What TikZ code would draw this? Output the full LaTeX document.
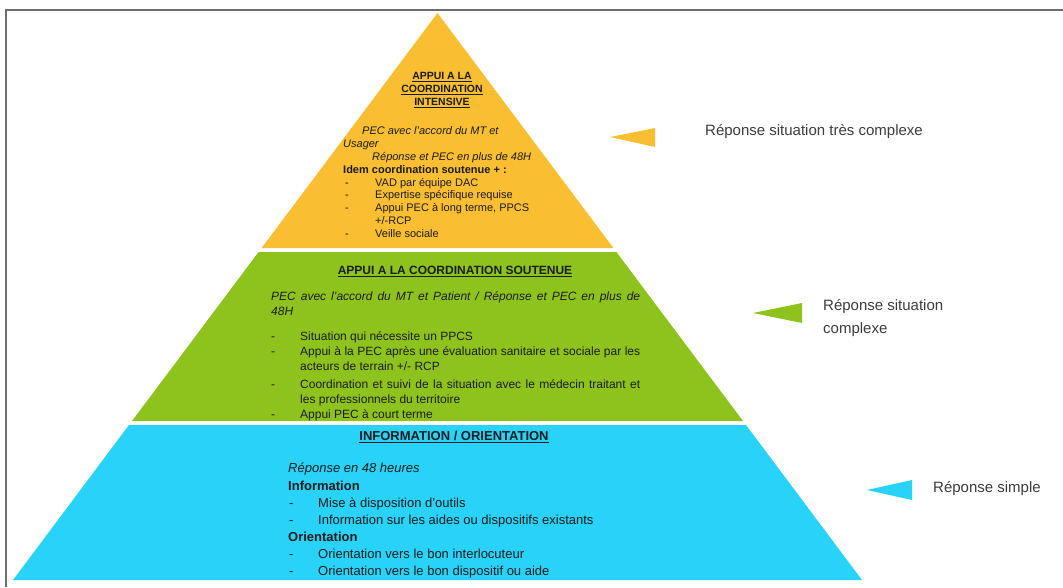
\documentclass[tikz,border=0pt]{standalone}
\usepackage{fontspec}
\setmainfont{Liberation Sans}
\definecolor{ylw}{RGB}{250,190,50}
\definecolor{grn}{RGB}{142,195,30}
\definecolor{blu}{RGB}{41,210,248}
\definecolor{txt}{RGB}{28,28,28}
\definecolor{lbl}{RGB}{60,60,60}
\definecolor{frame}{RGB}{110,110,110}
\begin{document}
\begin{tikzpicture}[x=1pt,y=-1pt,
  tx/.style={inner sep=0pt, anchor=mid west, text=txt},
  ttl/.style={inner sep=0pt, anchor=mid, text=txt, font=\bfseries},
  ytx/.style={tx, font=\fontsize{11}{12}\selectfont},
  gtx/.style={tx, font=\fontsize{12}{14}\selectfont},
  btx/.style={tx, font=\fontsize{13}{15}\selectfont},
  rlab/.style={inner sep=0pt, anchor=mid west, text=lbl, font=\fontsize{15}{18}\selectfont}]
\useasboundingbox (0,0) rectangle (1063,587);
% frame
\draw[frame, line width=2pt] (6,587) -- (6,10) -- (1063,10);
% pyramid tiers
\fill[ylw] (437.5,13) -- (613.4,248) -- (261.6,248) -- cycle;
\fill[grn] (258.6,252) -- (616.4,252) -- (743,421) -- (132,421) -- cycle;
\fill[blu] (129,425) -- (746,425) -- (862,580) -- (13,580) -- cycle;

% yellow tier text
\node[ttl, font=\bfseries\fontsize{10.5}{12}\selectfont] (y1) at (442,77) {\underline{APPUI A LA}};
\node[ttl, font=\bfseries\fontsize{10.5}{12}\selectfont] (y2) at (442,90) {\underline{COORDINATION}};
\node[ttl, font=\bfseries\fontsize{10.5}{12}\selectfont] (y3) at (442,103) {\underline{INTENSIVE}};
\node[ytx] (y4) at (362,132) {\itshape PEC avec l'accord du MT et};
\node[ytx] (y5) at (343,145) {\itshape Usager};
\node[ytx] (y6) at (372,158) {\itshape Réponse et PEC en plus de 48H};
\node[ytx] (y7) at (343,171) {\bfseries Idem coordination soutenue + :};
\node[ytx] (yd1) at (345,184) {-};
\node[ytx] (y8) at (375,184) {VAD par équipe DAC};
\node[ytx] (yd2) at (345,196) {-};
\node[ytx] (y9) at (375,196) {Expertise spécifique requise};
\node[ytx] (yd3) at (345,209) {-};
\node[ytx] (y10) at (375,209) {Appui PEC à long terme, PPCS};
\node[ytx] (y11) at (375,222) {+/-RCP};
\node[ytx] (yd4) at (345,235) {-};
\node[ytx] (y12) at (375,235) {Veille sociale};

% green tier text
\node[ttl, font=\bfseries\fontsize{12}{14}\selectfont] (g1) at (455,272) {\underline{APPUI A LA COORDINATION SOUTENUE}};
\node[gtx] (g2) at (271,298) {\makebox[369pt][s]{\itshape PEC avec l'accord du MT et Patient / Réponse et PEC en plus de}};
\node[gtx] (g3) at (271,313) {\itshape 48H};
\node[gtx] (gd1) at (271,338) {-};
\node[gtx] (g4) at (300,338) {Situation qui nécessite un PPCS};
\node[gtx] (gd2) at (271,353) {-};
\node[gtx] (g5) at (300,353) {\makebox[340pt][s]{Appui à la PEC après une évaluation sanitaire et sociale par les}};
\node[gtx] (g6) at (300,368) {acteurs de terrain +/- RCP};
\node[gtx] (gd3) at (271,386) {-};
\node[gtx] (g7) at (300,386) {\makebox[340pt][s]{Coordination et suivi de la situation avec le médecin traitant et}};
\node[gtx] (g8) at (300,401) {les professionnels du territoire};
\node[gtx] (gd4) at (271,416) {-};
\node[gtx] (g9) at (300,416) {Appui PEC à court terme};

% blue tier text
\node[ttl, font=\bfseries\fontsize{13}{15}\selectfont] (b1) at (454,438) {\underline{INFORMATION / ORIENTATION}};
\node[btx] (b2) at (288,470) {\itshape Réponse en 48 heures};
\node[btx] (b3) at (288,488) {\bfseries Information};
\node[btx] (bd1) at (289,505) {-};
\node[btx] (b4) at (318,505) {Mise à disposition d'outils};
\node[btx] (bd2) at (289,522) {-};
\node[btx] (b5) at (318,522) {Information sur les aides ou dispositifs existants};
\node[btx] (b6) at (288,539) {\bfseries Orientation};
\node[btx] (bd3) at (289,556) {-};
\node[btx] (b7) at (318,556) {Orientation vers le bon interlocuteur};
\node[btx] (bd4) at (289,573) {-};
\node[btx] (b8) at (318,573) {Orientation vers le bon dispositif ou aide};

% side markers and labels
\fill[ylw] (610,137) -- (655,128) -- (655,147) -- cycle;
\node[rlab] (r1) at (705,133) {Réponse situation très complexe};
\fill[grn] (753,313) -- (802,303) -- (802,323) -- cycle;
\node[rlab] (r2a) at (823,308) {Réponse situation};
\node[rlab] (r2b) at (823,331) {complexe};
\fill[blu] (867,490) -- (912,480) -- (912,500) -- cycle;
\node[rlab] (r3) at (933,490) {Réponse simple};
\end{tikzpicture}
\end{document}
